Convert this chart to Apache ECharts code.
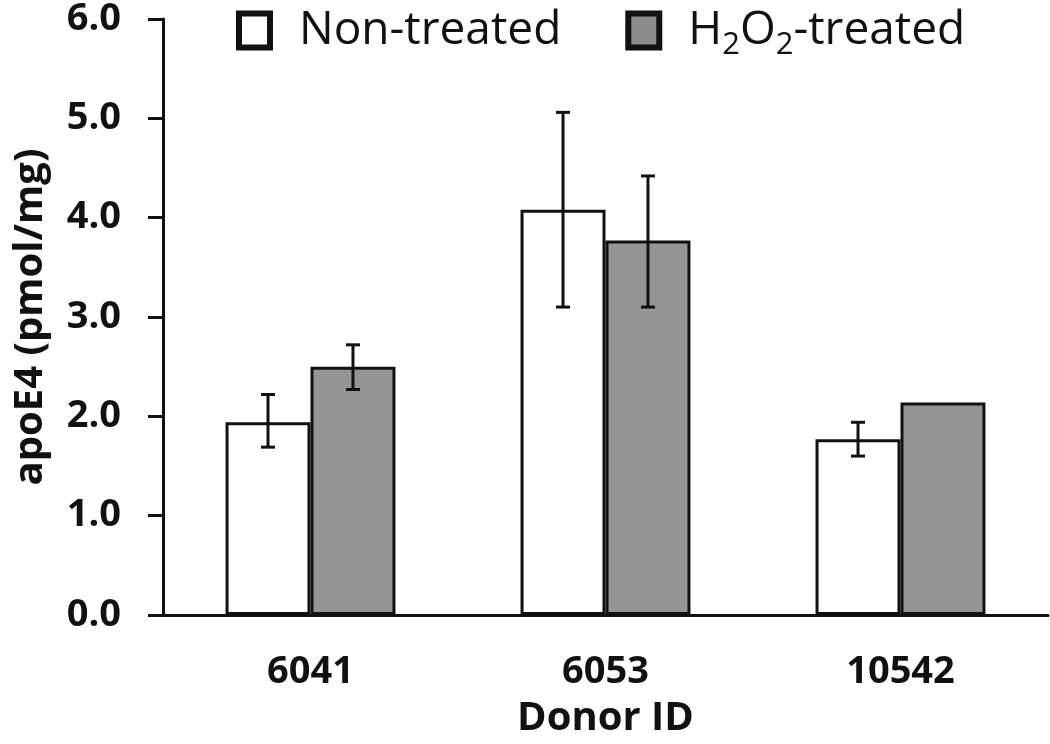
<!DOCTYPE html>
<html>
<head>
<meta charset="utf-8">
<script src="https://cdn.jsdelivr.net/npm/echarts@6/dist/echarts.min.js"></script>
<style>html,body{margin:0;padding:0;background:#fff;}#c{width:1050px;height:744px;}</style>
</head>
<body>
<div id="c"></div>
<script>
var categories = ['6041', '6053', '10542'];
var seriesNames = ['Non-treated', 'H2O2-treated'];
var nonTreated = [1.94, 4.08, 1.77];
var h2o2Treated = [2.50, 3.77, 2.14];
var nonTreatedErrLow = [1.69, 3.10, 1.60];
var nonTreatedErrHigh = [2.22, 5.06, 1.94];
var h2o2ErrLow = [2.27, 3.10, null];
var h2o2ErrHigh = [2.72, 4.42, null];
var yTicks = [0, 1, 2, 3, 4, 5, 6];

var BAR_FRAC = 0.288;
var FONT = '"Open Sans", "Noto Sans", sans-serif';

function errSeries(seriesIdx, lows, highs) {
  var data = [];
  for (var i = 0; i < categories.length; i++) {
    if (lows[i] != null) data.push([i, lows[i], highs[i]]);
  }
  return {
    type: 'custom',
    z: 10,
    silent: true,
    data: data,
    encode: { x: 0, y: [1, 2] },
    renderItem: function (params, api) {
      var ci = api.value(0);
      var lo = api.coord([ci, api.value(1)]);
      var hi = api.coord([ci, api.value(2)]);
      var band = api.size([1, 0])[0];
      var bw = band * BAR_FRAC;
      var x = lo[0] + (seriesIdx - 0.5) * bw;
      var cap = 7;
      var st = { stroke: '#111', lineWidth: 3 };
      return {
        type: 'group',
        children: [
          { type: 'line', shape: { x1: x, y1: lo[1], x2: x, y2: hi[1] }, style: st },
          { type: 'line', shape: { x1: x - cap, y1: lo[1], x2: x + cap, y2: lo[1] }, style: st },
          { type: 'line', shape: { x1: x - cap, y1: hi[1], x2: x + cap, y2: hi[1] }, style: st }
        ]
      };
    }
  };
}

var chart = echarts.init(document.getElementById('c'), null, { renderer: 'canvas' });
chart.setOption({
  backgroundColor: '#fff',
  animation: false,
  textStyle: { fontFamily: FONT, color: '#111' },
  grid: { left: 163, right: 2, top: 17, bottom: 127, containLabel: false },
  legend: {
    left: 236,
    top: 0,
    padding: 0,
    itemWidth: 31,
    itemHeight: 34,
    itemGap: 64,
    icon: 'rect',
    data: [
      { name: seriesNames[0], itemStyle: { borderWidth: 6, borderColor: '#111', color: '#fff' } },
      { name: seriesNames[1], itemStyle: { borderWidth: 6, borderColor: '#111', color: '#8a8a8a' } }
    ],
    formatter: function (n) {
      if (n === seriesNames[1]) return '{a|H}{s|2}{a|O}{s|2}{a|-treated}';
      return '{a|' + n + '}';
    },
    textStyle: {
      fontFamily: FONT,
      padding: [0, 0, 0, 24],
      rich: {
        a: { fontSize: 46, fontFamily: FONT, color: '#111', lineHeight: 46 },
        s: { fontSize: 31, fontFamily: FONT, color: '#111', lineHeight: 46, padding: [30, 0, 0, 0] }
      }
    }
  },
  xAxis: {
    type: 'category',
    data: categories,
    name: 'Donor ID',
    nameLocation: 'middle',
    nameGap: 84,
    nameTextStyle: { fontFamily: FONT, fontWeight: 'bold', fontSize: 40, color: '#111' },
    axisLine: { lineStyle: { color: '#111', width: 3 } },
    axisTick: { show: false },
    axisLabel: { margin: 38, fontFamily: FONT, fontWeight: 'bold', fontSize: 38, color: '#111' },
    splitLine: { show: false }
  },
  yAxis: {
    type: 'value',
    min: 0,
    max: 6,
    interval: 1,
    name: 'apoE4 (pmol/mg)',
    nameLocation: 'middle',
    nameRotate: 90,
    nameGap: 112,
    nameTextStyle: { fontFamily: FONT, fontWeight: 'bold', fontSize: 40, color: '#111' },
    axisLine: { show: true, lineStyle: { color: '#111', width: 3 } },
    axisTick: { show: true, inside: false, length: 15, lineStyle: { color: '#111', width: 3 } },
    axisLabel: {
      margin: 42, fontFamily: FONT, fontWeight: 'bold', fontSize: 38, color: '#111',
      formatter: function (v) { return yTicks.indexOf(v) >= 0 ? v.toFixed(1) : ''; }
    },
    splitLine: { show: false }
  },
  series: [
    {
      name: seriesNames[0], type: 'bar', data: nonTreated,
      barWidth: (BAR_FRAC * 100) + '%', barGap: '0%',
      itemStyle: { color: '#ffffff', borderColor: '#111', borderWidth: 3 }
    },
    {
      name: seriesNames[1], type: 'bar', data: h2o2Treated,
      barWidth: (BAR_FRAC * 100) + '%', barGap: '0%',
      itemStyle: { color: '#959595', borderColor: '#111', borderWidth: 3 }
    },
    errSeries(0, nonTreatedErrLow, nonTreatedErrHigh),
    errSeries(1, h2o2ErrLow, h2o2ErrHigh)
  ]
});
</script>
</body>
</html>
